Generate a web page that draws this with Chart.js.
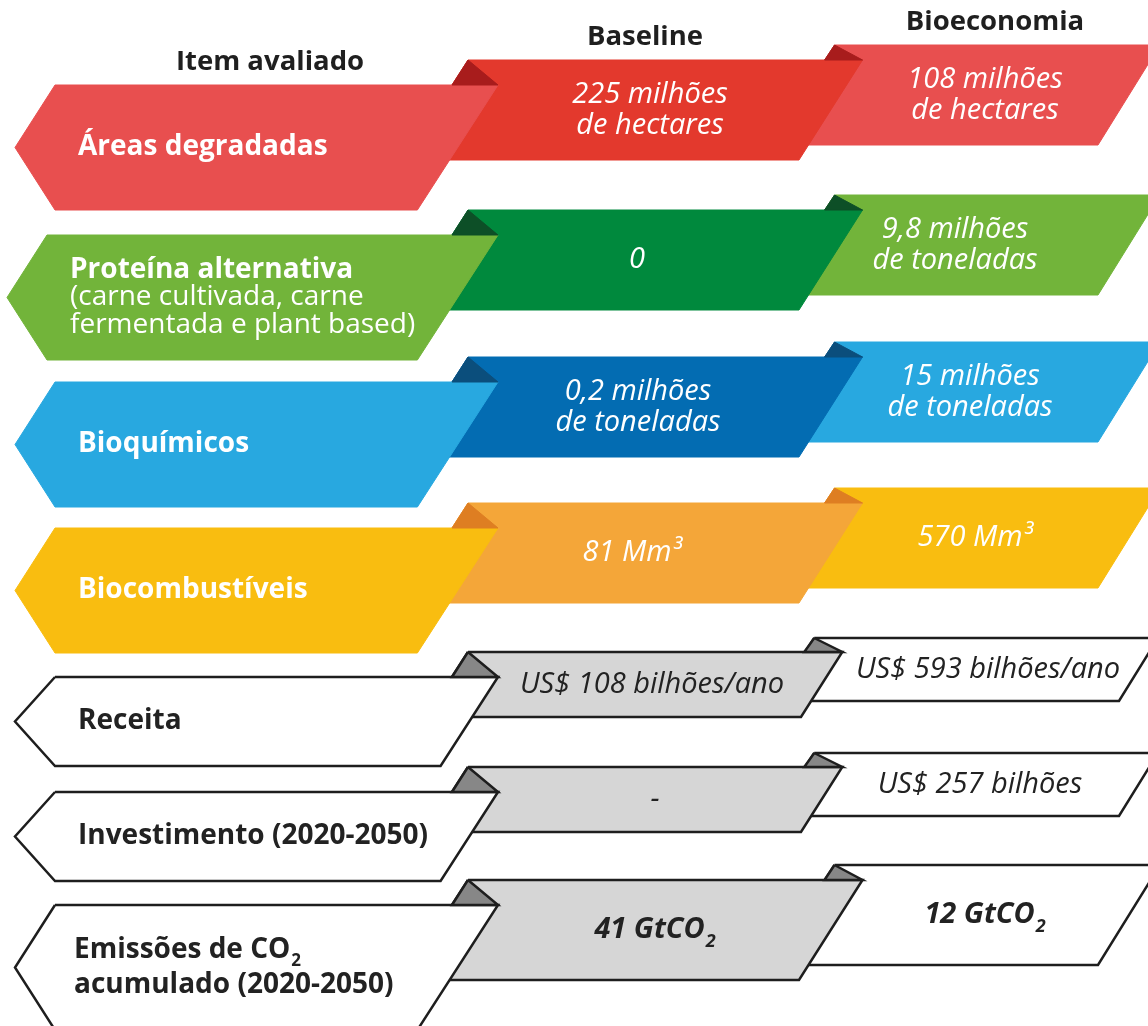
<!DOCTYPE html>
<html lang="pt">
<head>
<meta charset="UTF-8">
<title>Item avaliado: Baseline x Bioeconomia</title>
<script src="https://cdn.jsdelivr.net/npm/chart.js"></script>
<style>
  html, body { margin: 0; padding: 0; background: #fff; }
  canvas { display: block; }
</style>
</head>
<body>
<canvas id="chart" width="1148" height="1026"></canvas>
<script>
// --- dados ---
const headers = ['Item avaliado', 'Baseline', 'Bioeconomia'];
const items = [
  ['Áreas degradadas'],
  ['Proteína alternativa', '(carne cultivada, carne', 'fermentada e plant based)'],
  ['Bioquímicos'],
  ['Biocombustíveis'],
  ['Receita'],
  ['Investimento (2020-2050)'],
  ['Emissões de CO₂', 'acumulado (2020-2050)']
];
const baselineValues = [
  ['225 milhões', 'de hectares'],
  ['0'],
  ['0,2 milhões', 'de toneladas'],
  ['81 Mm³'],
  ['US$ 108 bilhões/ano'],
  ['-'],
  ['41 GtCO₂']
];
const bioValues = [
  ['108 milhões', 'de hectares'],
  ['9,8 milhões', 'de toneladas'],
  ['15 milhões', 'de toneladas'],
  ['570 Mm³'],
  ['US$ 593 bilhões/ano'],
  ['US$ 257 bilhões'],
  ['12 GtCO₂']
];

// --- layout (unidades do eixo = px da figura 1148x1026) ---
const rowTop  = [85, 235, 382, 528, 677, 792, 905];
const rowTall = [true, true, true, true, false, false, true];
const leftShift = [0, -8, 0, 0, 0, 0, 0];
const itemX = [78, 70, 78, 78, 78, 78, 74];
const itemLineH = [0, 27.5, 0, 0, 0, 0, 35];
const baseX = [650, 637, 638, 632, 652, 655, 655];
const bioX  = [985, 955, 970, 975, 988, 980, 985];
const headerX = [270, 645, 995];
const headerY = [62, 37, 22];

// --- estilos ---
const palette = [
  { side: '#E84F4F', mid: '#E3392D', fold: '#A81C1C', ink: '#FFFFFF', line: null },
  { side: '#72B43A', mid: '#00893D', fold: '#0D4F27', ink: '#FFFFFF', line: null },
  { side: '#28A8E0', mid: '#036CB2', fold: '#0B4E7C', ink: '#FFFFFF', line: null },
  { side: '#F9BD10', mid: '#F4A639', fold: '#DE7E22', ink: '#FFFFFF', line: null },
  { side: '#FFFFFF', mid: '#D6D6D6', fold: '#878787', ink: '#222222', line: '#1E1E1E' },
  { side: '#FFFFFF', mid: '#D6D6D6', fold: '#878787', ink: '#222222', line: '#1E1E1E' },
  { side: '#FFFFFF', mid: '#D6D6D6', fold: '#878787', ink: '#222222', line: '#1E1E1E' }
];
const itemWeights = [['700'], ['700', '400', '400'], ['700'], ['700'], ['700'], ['700'], ['700', '700']];
const valueWeight = ['400', '400', '400', '400', '400', '400', '700'];
const FONT = "'Open Sans', sans-serif";
const SLANT = 0.645;

// geometria de cada linha
function rowGeom(i) {
  const T = rowTop[i];
  const tall = rowTall[i];
  const lh = tall ? 125 : 89;
  const bTop = T - 25, bh = tall ? 100 : 65;
  const oTop = T - (tall ? 40 : 39), oh = tall ? 100 : 63;
  const bRightBot = tall ? 799 : 801;
  const bRightTop = bRightBot + 0.635 * bh;
  const oLeft = bRightTop - 28;
  const oRightBot = tall ? 1098 : 1119;
  const lx = 55 + leftShift[i], px = 15 + leftShift[i];
  return {
    T, lh, bTop, bh, oTop, oh,
    left: [[lx, T], [498, T], [498 - SLANT * lh, T + lh], [lx, T + lh], [px, T + lh / 2]],
    base: [[468, bTop], [bRightTop, bTop], [bRightBot, bTop + bh], [468 - SLANT * bh, bTop + bh]],
    baseFold: [[468, bTop], [452, T], [498, T]],
    bio: [[oLeft, oTop], [oRightBot + 0.62 * oh, oTop], [oRightBot, oTop + oh], [oLeft - SLANT * oh, oTop + oh]],
    bioFold: [[oLeft, oTop], [oLeft - 10, bTop], [bRightTop, bTop]]
  };
}

function shape(pts, fillColor, lineColor) {
  return {
    data: pts.concat([pts[0]]).map(p => ({ x: p[0], y: p[1] })),
    showLine: true,
    fill: 'shape',
    backgroundColor: fillColor,
    borderColor: lineColor || fillColor,
    borderWidth: lineColor ? 2.5 : 1,
    borderJoinStyle: 'miter',
    tension: 0,
    pointRadius: 0,
    pointHoverRadius: 0
  };
}

const datasets = [];
items.forEach((_, i) => {
  const g = rowGeom(i), c = palette[i];
  datasets.push(shape(g.bio, c.side, c.line));
  datasets.push(shape(g.base, c.mid, c.line));
  datasets.push(shape(g.left, c.side, c.line));
  datasets.push(shape(g.baseFold, c.fold, c.line));
  datasets.push(shape(g.bioFold, c.fold, c.line));
});
// primeiro da lista = desenhado primeiro (fica por baixo)
datasets.forEach((d, k) => { d.order = -k; });

// texto com subscrito ₂
function drawRich(ctx, str, px, py, size, weight, style, align) {
  const parts = str.split('₂');
  const main = `${style} ${weight} ${size}px ${FONT}`;
  const sub = `${style} ${weight} ${Math.round(size * 0.62)}px ${FONT}`;
  let total = 0;
  parts.forEach((p, k) => {
    ctx.font = main; total += ctx.measureText(p).width;
    if (k < parts.length - 1) { ctx.font = sub; total += ctx.measureText('2').width + 1; }
  });
  let cx = align === 'center' ? px - total / 2 : px;
  ctx.textAlign = 'left';
  parts.forEach((p, k) => {
    ctx.font = main; ctx.fillText(p, cx, py); cx += ctx.measureText(p).width;
    if (k < parts.length - 1) {
      ctx.font = sub; ctx.fillText('2', cx + 1, py + size * 0.4);
      cx += ctx.measureText('2').width + 1;
    }
  });
}

const textPlugin = {
  id: 'textos',
  afterDatasetsDraw(chart) {
    const { ctx, scales: { x, y } } = chart;
    ctx.save();
    ctx.textBaseline = 'middle';
    ctx.fillStyle = '#1F1F1F';
    headers.forEach((h, k) => {
      drawRich(ctx, h, x.getPixelForValue(headerX[k]), y.getPixelForValue(headerY[k]), 27.5, '700', 'normal', 'center');
    });
    items.forEach((lines, i) => {
      const g = rowGeom(i), c = palette[i];
      ctx.fillStyle = c.ink;
      const midL = g.T + g.lh / 2;
      lines.forEach((t, j) => {
        const yy = midL + (j - (lines.length - 1) / 2) * itemLineH[i];
        drawRich(ctx, t, x.getPixelForValue(itemX[i]), y.getPixelForValue(yy), 28, itemWeights[i][j], 'normal', 'left');
      });
      const midB = g.bTop + g.bh / 2;
      baselineValues[i].forEach((t, j, arr) => {
        const yy = midB + (j - (arr.length - 1) / 2) * 31;
        drawRich(ctx, t, x.getPixelForValue(baseX[i]), y.getPixelForValue(yy), 29, valueWeight[i], 'italic', 'center');
      });
      const midO = g.oTop + g.oh / 2;
      bioValues[i].forEach((t, j, arr) => {
        const yy = midO + (j - (arr.length - 1) / 2) * 31;
        drawRich(ctx, t, x.getPixelForValue(bioX[i]), y.getPixelForValue(yy), 29, valueWeight[i], 'italic', 'center');
      });
    });
    ctx.restore();
  }
};

new Chart(document.getElementById('chart'), {
  type: 'scatter',
  data: { datasets },
  options: {
    responsive: false,
    animation: false,
    events: [],
    layout: { padding: 0 },
    scales: {
      x: { type: 'linear', min: 0, max: 1148, display: false },
      y: { type: 'linear', min: 0, max: 1026, reverse: true, display: false }
    },
    plugins: { legend: { display: false }, tooltip: { enabled: false } }
  },
  plugins: [textPlugin]
});
</script>
</body>
</html>
